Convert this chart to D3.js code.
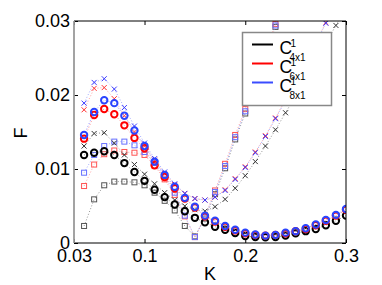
<!DOCTYPE html>
<html lang="en">
<head>
<meta charset="UTF-8">
<title>F vs K</title>
<style>
  body { margin: 0; background: #fff; }
  svg { font-family: "Liberation Sans", Arial, sans-serif; }
  .tick text { font-size: 18px; fill: #000; }
  .tick line { stroke: #000; }
</style>
</head>
<body>
<script src="https://d3js.org/d3.v7.min.js"></script>
<script>
// K values (x)
const kValues = [0.04, 0.05, 0.06, 0.07, 0.08, 0.09, 0.10, 0.11, 0.12, 0.13, 0.14,
  0.15, 0.16, 0.17, 0.18, 0.19, 0.20, 0.21, 0.22, 0.23, 0.24, 0.25, 0.26, 0.27,
  0.28, 0.29, 0.30];

// circles
const blackCirc = [0.0119, 0.0122, 0.0124, 0.0119, 0.0108, 0.0096, 0.0084, 0.0072, 0.0062,
  0.0052, 0.0043, 0.0034, 0.0028, 0.0022, 0.0018, 0.00135, 0.00095, 0.0008, 0.00077,
  0.0008, 0.0010, 0.0013, 0.0016, 0.0019, 0.0024, 0.0030, 0.0037];
const redCirc = [0.0141, 0.0173, 0.0181, 0.0174, 0.0159, 0.0142, 0.0128, 0.0105, 0.0089,
  0.0074, 0.0060, 0.0048, 0.0036, 0.0029, 0.0022, 0.0017, 0.0013, 0.0011, 0.0010,
  0.0011, 0.0013, 0.0016, 0.0019, 0.0024, 0.0030, 0.0037, 0.0045];
const blueCirc = [0.0146, 0.0177, 0.0193, 0.0189, 0.0172, 0.0152, 0.0131, 0.0110, 0.0092,
  0.0076, 0.0061, 0.0049, 0.0037, 0.0030, 0.0023, 0.0018, 0.0014, 0.00114, 0.0010,
  0.0011, 0.0014, 0.0016, 0.0020, 0.0025, 0.0031, 0.0038, 0.0046];

// crosses
const blackCross = [0.0131, 0.0148, 0.0149, 0.0135, 0.0119, 0.0106, 0.0093, 0.0080, 0.0068,
  0.0058, 0.0050, 0.0045, 0.0043, 0.0049, 0.0059, 0.0074, 0.0091, 0.0110, 0.0131,
  0.0153, 0.0176, 0.0199, 0.0222, 0.0246, 0.0270, 0.0294, 0.0318];
const redCross = [0.0180, 0.0209, 0.0210, 0.0195, 0.0172, 0.0150, 0.0131, 0.0112, 0.0094,
  0.0079, 0.0067, 0.0060, 0.0058, 0.0062, 0.0072, 0.0087, 0.0103, 0.0123, 0.0145,
  0.0169, 0.0194, 0.0220, 0.0245, 0.0271, 0.0298, 0.0325, 0.0352];
const blueCross = [0.0189, 0.0217, 0.0222, 0.0208, 0.0183, 0.0158, 0.0135, 0.0114, 0.0096,
  0.0080, 0.0067, 0.0060, 0.0058, 0.0062, 0.0071, 0.0086, 0.0102, 0.0122, 0.0144,
  0.0168, 0.0193, 0.0219, 0.0244, 0.0270, 0.0297, 0.0324, 0.0351];

// squares (leave the axes after K = 0.24)
const blackSq = [0.0023, 0.0059, 0.0078, 0.0083, 0.0083, 0.0082, 0.0078, 0.0068, 0.0057,
  0.0044, 0.0023, 0.0009, 0.0033, 0.0066, 0.0101, 0.0140, 0.0175, 0.0213, 0.0251,
  0.0292, 0.0333];
const redSq = [0.0077, 0.0106, 0.0120, 0.0125, 0.0123, 0.0122, 0.0119, 0.0104, 0.0086,
  0.0065, 0.0036, 0.0008, 0.0036, 0.0071, 0.0107, 0.0146, 0.0181, 0.0218, 0.0256,
  0.0296, 0.0337];
const blueSq = [0.0095, 0.0119, 0.0131, 0.0137, 0.0137, 0.0132, 0.0123, 0.0108, 0.0090,
  0.0068, 0.0037, 0.0008, 0.0035, 0.0069, 0.0104, 0.0143, 0.0178, 0.0215, 0.0253,
  0.0294, 0.0335];

const xTicks = [0.03, 0.1, 0.2, 0.3];
const yTicks = [0, 0.01, 0.02, 0.03];
const legendLabels = ["4x1", "6x1", "8x1"];
const legendColors = ["#000000", "#ff0000", "#3a4cff"];

const W = 382, H = 285;
const plot = {left: 74, right: 346, top: 21, bottom: 243};

const svg = d3.select("body").append("svg")
    .attr("width", W).attr("height", H);

const x = d3.scaleLinear().domain([0.03, 0.3]).range([plot.left, plot.right]);
const y = d3.scaleLinear().domain([0, 0.03]).range([plot.bottom, plot.top]);

svg.append("defs").append("clipPath").attr("id", "clip")
  .append("rect")
    .attr("x", plot.left).attr("y", plot.top)
    .attr("width", plot.right - plot.left).attr("height", plot.bottom - plot.top);

// axes with inward ticks
const fmt = d => d === 0 ? "0" : String(d);
svg.append("g").attr("transform", `translate(0,${plot.bottom})`)
    .call(d3.axisBottom(x).tickValues(xTicks).tickFormat(fmt).tickSizeInner(-4).tickSizeOuter(0).tickPadding(6))
    .call(g => g.select(".domain").remove());
svg.append("g").attr("transform", `translate(0,${plot.top})`)
    .call(d3.axisTop(x).tickValues(xTicks).tickFormat("").tickSizeInner(-4).tickSizeOuter(0))
    .call(g => g.select(".domain").remove());
svg.append("g").attr("transform", `translate(${plot.left},0)`)
    .call(d3.axisLeft(y).tickValues(yTicks).tickFormat(fmt).tickSizeInner(-4).tickSizeOuter(0).tickPadding(4))
    .call(g => g.select(".domain").remove());
svg.append("g").attr("transform", `translate(${plot.right},0)`)
    .call(d3.axisRight(y).tickValues(yTicks).tickFormat("").tickSizeInner(-4).tickSizeOuter(0))
    .call(g => g.select(".domain").remove());

const layer = svg.append("g").attr("clip-path", "url(#clip)");

const line = d3.line().x(d => x(d[0])).y(d => y(d[1]));

function series(vals, opts) {
  const pts = vals.map((v, i) => [kValues[i], v]);
  layer.append("path")
      .datum(pts)
      .attr("d", line)
      .attr("fill", "none")
      .attr("stroke", opts.lineColor)
      .attr("stroke-width", 0.9)
      .attr("stroke-dasharray", "1,2");
  const g = layer.append("g");
  if (opts.marker === "o") {
    g.selectAll("circle").data(pts).join("circle")
        .attr("cx", d => x(d[0])).attr("cy", d => y(d[1]))
        .attr("r", 3.2)
        .attr("fill", "none")
        .attr("stroke", opts.color)
        .attr("stroke-width", 2);
  } else if (opts.marker === "s") {
    g.selectAll("rect").data(pts).join("rect")
        .attr("x", d => x(d[0]) - 2.5).attr("y", d => y(d[1]) - 2.5)
        .attr("width", 5).attr("height", 5)
        .attr("fill", "none")
        .attr("stroke", opts.color)
        .attr("stroke-width", 1);
  } else {
    g.selectAll("path").data(pts).join("path")
        .attr("d", d => {
          const cx = x(d[0]), cy = y(d[1]), s = 2.5;
          return `M${cx - s},${cy - s}L${cx + s},${cy + s}M${cx - s},${cy + s}L${cx + s},${cy - s}`;
        })
        .attr("stroke", opts.color)
        .attr("stroke-width", 1);
  }
}

// squares and crosses first, circles on top
series(blackSq, {marker: "s", color: "#555", lineColor: "#888"});
series(redSq, {marker: "s", color: "#f55", lineColor: "#f99"});
series(blueSq, {marker: "s", color: "#6670ff", lineColor: "#99a0ff"});
series(blackCross, {marker: "x", color: "#333", lineColor: "#888"});
series(redCross, {marker: "x", color: "#f33", lineColor: "#f99"});
series(blueCross, {marker: "x", color: "#3a3aff", lineColor: "#99a0ff"});
series(blackCirc, {marker: "o", color: "#000", lineColor: "#888"});
series(redCirc, {marker: "o", color: "#ff0000", lineColor: "#f88"});
series(blueCirc, {marker: "o", color: "#2a44ff", lineColor: "#88f"});

// frame
svg.append("path")
    .attr("d", `M${plot.left},${plot.top}H${plot.right}V${plot.bottom}H${plot.left}`)
    .attr("fill", "none").attr("stroke", "#000").attr("stroke-width", 1);
svg.append("line")
    .attr("x1", plot.left).attr("x2", plot.left)
    .attr("y1", plot.top).attr("y2", plot.bottom)
    .attr("stroke", "#999").attr("stroke-width", 1.8);

// axis labels
svg.append("text")
    .attr("x", (plot.left + plot.right) / 2).attr("y", 280)
    .attr("text-anchor", "middle").attr("font-size", 18).text("K");
svg.append("text")
    .attr("transform", `translate(27,${(plot.top + plot.bottom) / 2 + 1}) rotate(-90)`)
    .attr("text-anchor", "middle").attr("font-size", 18).text("F");

// legend
const leg = svg.append("g");
leg.append("rect")
    .attr("x", 242.5).attr("y", 32.5).attr("width", 89).attr("height", 73)
    .attr("fill", "#fff").attr("stroke", "#888").attr("stroke-width", 1.5);
legendLabels.forEach((lab, i) => {
  const base = 54 + i * 19;
  leg.append("line")
      .attr("x1", 252).attr("x2", 273)
      .attr("y1", base - 9.5).attr("y2", base - 9.5)
      .attr("stroke", legendColors[i]).attr("stroke-width", 2);
  leg.append("text").attr("x", 279.5).attr("y", base)
      .attr("font-size", 17.5).text("C");
  leg.append("text").attr("x", 290.5).attr("y", base - 7.5)
      .attr("font-size", 10).text("1");
  leg.append("text").attr("x", 289.5).attr("y", base + 7.3)
      .attr("font-size", 10).text(lab);
});
</script>
</body>
</html>
